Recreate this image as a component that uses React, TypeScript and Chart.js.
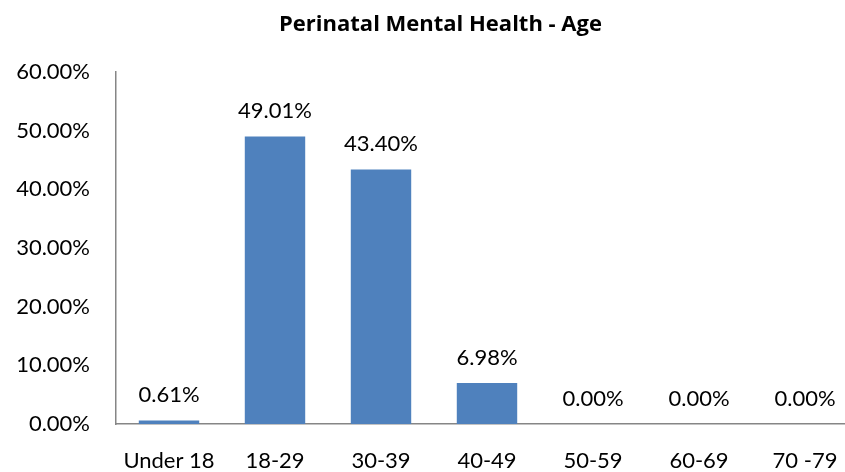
import React, { useEffect, useRef } from "react";
import { Chart, registerables } from "chart.js";

Chart.register(...registerables);

const categories = ["Under 18", "18-29", "30-39", "40-49", "50-59", "60-69", "70 -79"];
const values = [0.61, 49.01, 43.4, 6.98, 0, 0, 0];
const yTicks = [0, 10, 20, 30, 40, 50, 60];
const titleText = "Perinatal Mental Health - Age";

const FONT = "Lato, 'Open Sans', sans-serif";
const TITLE_FONT = "'Open Sans', Lato, sans-serif";

const W = 881;
const H = 472;

const labelPlugin = {
  id: "barLabels",
  afterDatasetsDraw(chart: any) {
    const ctx = chart.ctx;
    const meta = chart.getDatasetMeta(0);
    ctx.save();
    ctx.fillStyle = "#000";
    ctx.font = `22px ${FONT}`;
    ctx.textAlign = "center";
    ctx.textBaseline = "alphabetic";
    meta.data.forEach((bar: any, i: number) => {
      ctx.fillText(values[i].toFixed(2) + "%", bar.x, bar.y - 18);
    });
    ctx.restore();
  },
};

const titlePlugin = {
  id: "customTitle",
  afterDraw(chart: any) {
    const ctx = chart.ctx;
    ctx.save();
    ctx.fillStyle = "#000";
    ctx.font = `bold 22px ${TITLE_FONT}`;
    ctx.textAlign = "center";
    ctx.textBaseline = "alphabetic";
    ctx.fillText(titleText, chart.width / 2, 31);
    ctx.restore();
  },
};

export default function App() {
  const ref = useRef<HTMLCanvasElement>(null);
  useEffect(() => {
    document.body.style.margin = "0";
    document.body.style.overflow = "hidden";
    const chart = new Chart(ref.current!, {
      type: "bar",
      data: {
        labels: categories,
        datasets: [
          {
            data: values,
            backgroundColor: "#4F81BD",
            barPercentage: 0.57,
            categoryPercentage: 1,
          },
        ],
      },
      options: {
        animation: false,
        responsive: false,
        layout: { padding: { left: 0, right: 23, top: 72, bottom: 0 } },
        plugins: {
          legend: { display: false },
          tooltip: { enabled: false },
          title: { display: false },
        },
        scales: {
          x: {
            grid: { display: false, drawTicks: false },
            border: { color: "#868686", width: 1.5 },
            ticks: {
              color: "#000",
              font: { family: FONT, size: 22 },
              padding: 24,
              maxRotation: 0,
              autoSkip: false,
            },
            afterFit(scale: any) {
              scale.height = 48;
            },
          },
          y: {
            min: 0,
            max: 60,
            afterBuildTicks(scale: any) {
              scale.ticks = yTicks.map((v) => ({ value: v }));
            },
            grid: { display: false, drawTicks: false },
            border: { color: "#868686", width: 1.5 },
            ticks: {
              color: "#000",
              font: { family: FONT, size: 22 },
              padding: 26,
              callback: (v: any) => Number(v).toFixed(2) + "%",
            },
            afterFit(scale: any) {
              scale.width = 116;
            },
          },
        },
      },
      plugins: [labelPlugin, titlePlugin],
    });
    return () => chart.destroy();
  }, []);
  return (
    <div style={{ position: "absolute", left: 0, top: 0, width: W, height: H }}>
      <canvas ref={ref} width={W} height={H} style={{ width: W, height: H }} />
    </div>
  );
}
